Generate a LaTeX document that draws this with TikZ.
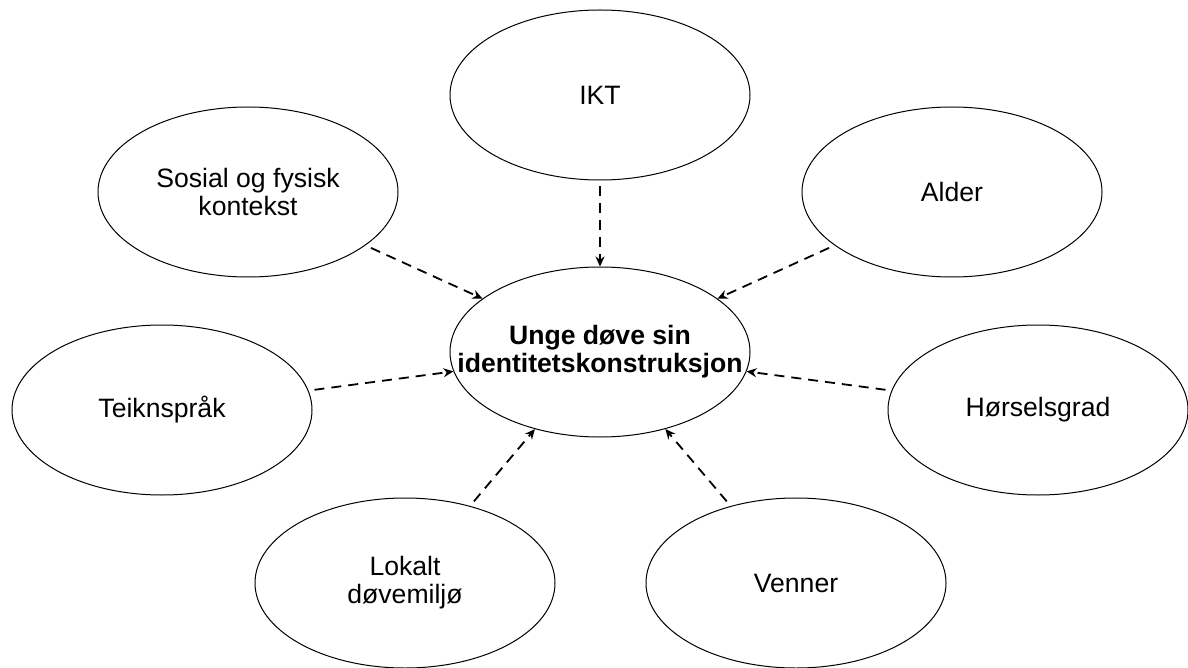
\documentclass[tikz,border=0pt]{standalone}
\usepackage{fontspec}
\setmainfont{Liberation Sans}
\usepackage{xcolor}
\usepackage{tikz}
\usetikzlibrary{shapes.geometric,arrows.meta}

\begin{document}
\begin{tikzpicture}[x=.5pt,y=-.5pt,>={Stealth[length=5pt,width=4.5pt]},
	bubble/.style={ellipse,draw,line width=.5pt,minimum width=150pt,minimum height=85pt,
		inner xsep=-20pt,inner ysep=0pt,align=center,font=\fontsize{13.3}{14}\selectfont},
	influence/.style={->,line width=.9pt,dash pattern=on 5pt off 3.5pt,shorten <=3pt}]
	\useasboundingbox (0,0) rectangle (1188,668);
	\node[bubble,font=\fontsize{13.3}{14}\selectfont\bfseries] (core) at (600,352) {Unge døve sin\\identitetskonstruksjon};
	\node[bubble] (ikt) at (600,95) {IKT};
	\node[bubble] (sosial) at (248,192) {Sosial og fysisk\\kontekst};
	\node[bubble] (alder) at (952,192) {Alder};
	\node[bubble] (teikn) at (162,410) {Teiknspråk};
	\node[bubble] (horsel) at (1038,410) {Hørselsgrad};
	\node[bubble] (lokalt) at (405,583) {Lokalt\\døvemiljø};
	\node[bubble] (venner) at (796,583) {Venner};
	
	\foreach \n in {ikt,sosial,alder,teikn,horsel,lokalt,venner}
		\draw[influence] (\n) -- (core);
\end{tikzpicture}
\end{document}
